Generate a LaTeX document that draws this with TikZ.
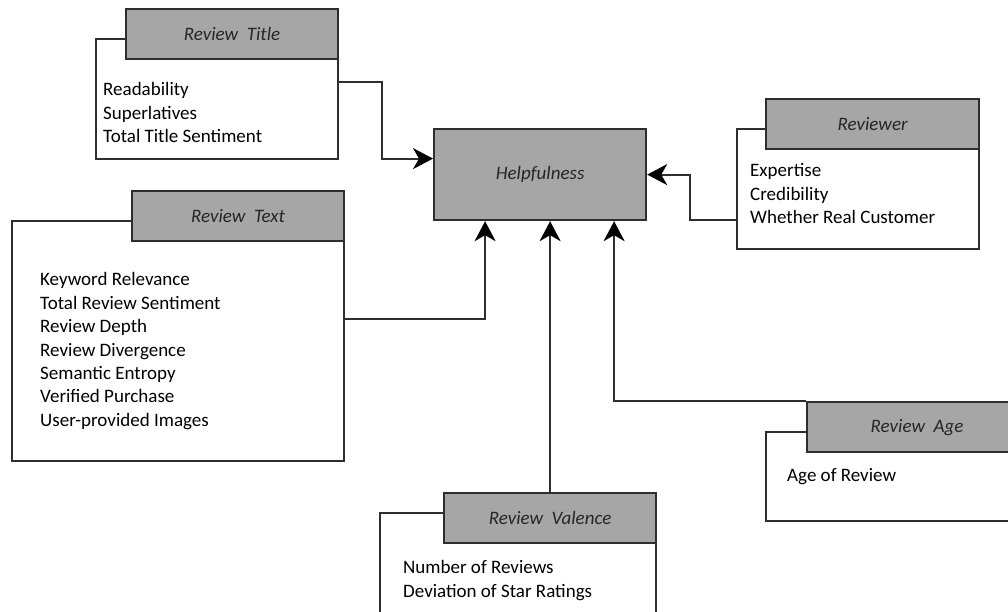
\documentclass[tikz,border=0pt]{standalone}
\usepackage{fontspec}
\setmainfont{Carlito}
\usetikzlibrary{arrows.meta}
\definecolor{boxgray}{HTML}{A6A6A6}
\definecolor{edgegray}{HTML}{2E2E2E}
\begin{document}
\begin{tikzpicture}[x=1pt,y=-1pt,
    head/.style={draw=edgegray,line width=2.2pt,fill=boxgray,minimum height=50pt,
      anchor=north west,inner sep=0pt,text=black!85,
      font=\fontsize{19}{23.4}\selectfont\itshape},
    body/.style={draw=edgegray,line width=2pt,fill=white,anchor=north west,inner sep=0pt},
    items/.style={anchor=north west,align=left,inner sep=0pt,text=black,
      font=\fontsize{19}{23.4}\selectfont},
    link/.style={draw=edgegray,line width=2pt,
      -{Stealth[length=20pt,width=21pt,inset=6pt,color=black,fill=black]}}]
  \useasboundingbox (0,0) rectangle (1008,612);
  \clip (0,0) rectangle (1008,612);

  \node[body,minimum width=242pt,minimum height=120pt] (titlebody) at (95,38) {};
  \node[head,minimum width=212pt] (titlehead) at (125,8) {Review\ \ Title};
  \node[items] (titlelist) at (103,82.5) {Readability\\Superlatives\\Total Title Sentiment};

  \node[body,minimum width=332pt,minimum height=240pt] (textbody) at (11,220) {};
  \node[head,minimum width=212pt] (texthead) at (131,190) {Review\ \ Text};
  \node[items] (textlist) at (40,272.5) {Keyword Relevance\\Total Review Sentiment\\Review Depth\\
    Review Divergence\\Semantic Entropy\\Verified Purchase\\User-provided Images};

  \node[body,minimum width=242pt,minimum height=120pt] (revbody) at (736,128) {};
  \node[head,minimum width=213pt] (revhead) at (765,98) {Reviewer};
  \node[items] (revlist) at (750,163.5) {Expertise\\Credibility\\Whether Real Customer};

  \node[body,minimum width=276pt,minimum height=130pt] (valbody) at (379,512) {};
  \node[head,minimum width=212pt] (valhead) at (443,492) {Review\ \ Valence};
  \node[items] (vallist) at (403,560.5) {Number of Reviews\\Deviation of Star Ratings};

  \node[body,minimum width=260pt,minimum height=89pt] (agebody) at (765,431) {};
  \node[head,minimum width=220pt] (agehead) at (806,401) {Review\ \ Age};
  \node[items] (agelist) at (787,468.5) {Age of Review};

  \node[head,minimum width=212pt,minimum height=91pt] (help) at (433,128) {Helpfulness};

  \draw[link] ([yshift=-44]titlebody.north east) -- ++(43,0) |- ([yshift=16]help.west);
  \draw[link] ([yshift=22]textbody.east) -| ([xshift=-55]help.south);
  \draw[link] ([yshift=-31]revbody.west) -- ++(-46,0) |- (help.east);
  \draw[link] (valhead.north) -- (valhead.north |- help.south);
  \draw[link] (agehead.north west) -| ([xshift=74]help.south);
\end{tikzpicture}
\end{document}
